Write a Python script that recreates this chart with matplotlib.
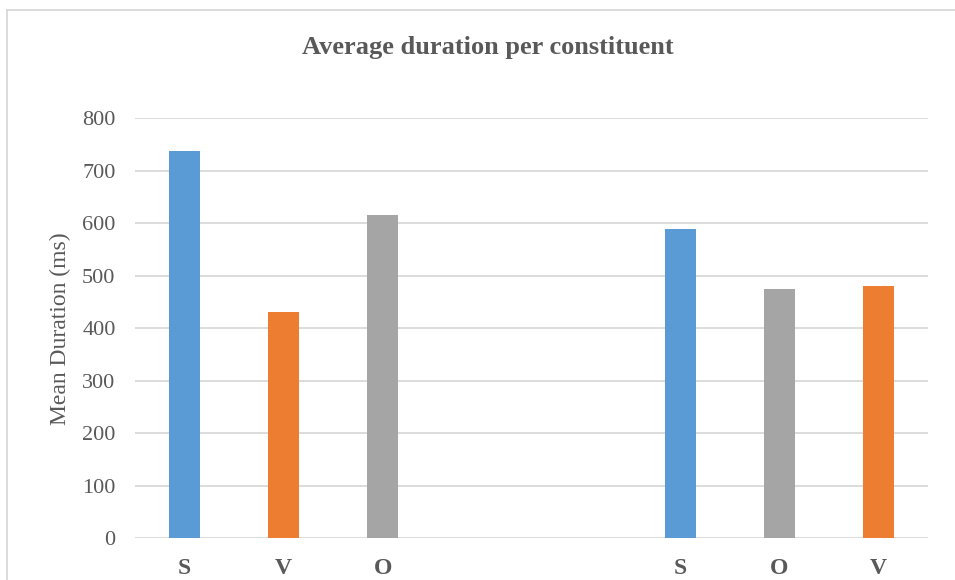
import matplotlib
matplotlib.use("Agg")
import matplotlib.pyplot as plt
from matplotlib.lines import Line2D

categories = ["S", "V", "O", "", "", "S", "O", "V"]
values = [738, 431, 616, None, None, 590, 475, 481]
colors = ["#5B9BD5", "#ED7D31", "#A5A5A5", None, None, "#5B9BD5", "#A5A5A5", "#ED7D31"]
yticks = [0, 100, 200, 300, 400, 500, 600, 700, 800]

plt.rcParams['font.family'] = ['Liberation Serif', 'DejaVu Serif']
txt = "#595959"
grid = "#D9D9D9"

fig = plt.figure(figsize=(9.55, 5.8), dpi=100)
ax = fig.add_axes([135/955, 1-538.3/580, (928-135)/955, (538.3-118.3)/580])

xs = [i for i, v in enumerate(values) if v is not None]
ax.bar(xs, [values[i] for i in xs], width=0.313, color=[colors[i] for i in xs], zorder=3)

ax.set_xlim(-0.5, len(categories) - 0.5)
ax.set_ylim(0, 800)
ax.set_yticks(yticks)
ax.set_yticklabels([str(t) for t in yticks], fontsize=16, color=txt)
ax.set_xticks(range(len(categories)))
ax.set_xticklabels(categories, fontsize=17, color=txt, fontweight="bold")
ax.tick_params(axis="both", length=0)
ax.tick_params(axis="y", pad=14)
ax.tick_params(axis="x", pad=14)
ax.grid(axis="y", color=grid, linewidth=1.3, zorder=0)
for s in ax.spines.values():
    s.set_visible(False)
ax.set_ylabel("Mean Duration (ms)", fontsize=17, color=txt, labelpad=8)

fig.text(488/955, 1-54/580, "Average duration per constituent", ha="center", va="baseline",
         fontsize=19, fontweight="bold", color=txt)

fig.add_artist(Line2D([7/955, 1], [1-10/580, 1-10/580], color=grid, lw=1.3, transform=fig.transFigure))
fig.add_artist(Line2D([7/955, 7/955], [0, 1-10/580], color=grid, lw=1.3, transform=fig.transFigure))

fig.savefig("out.png", dpi=100, facecolor="white")
